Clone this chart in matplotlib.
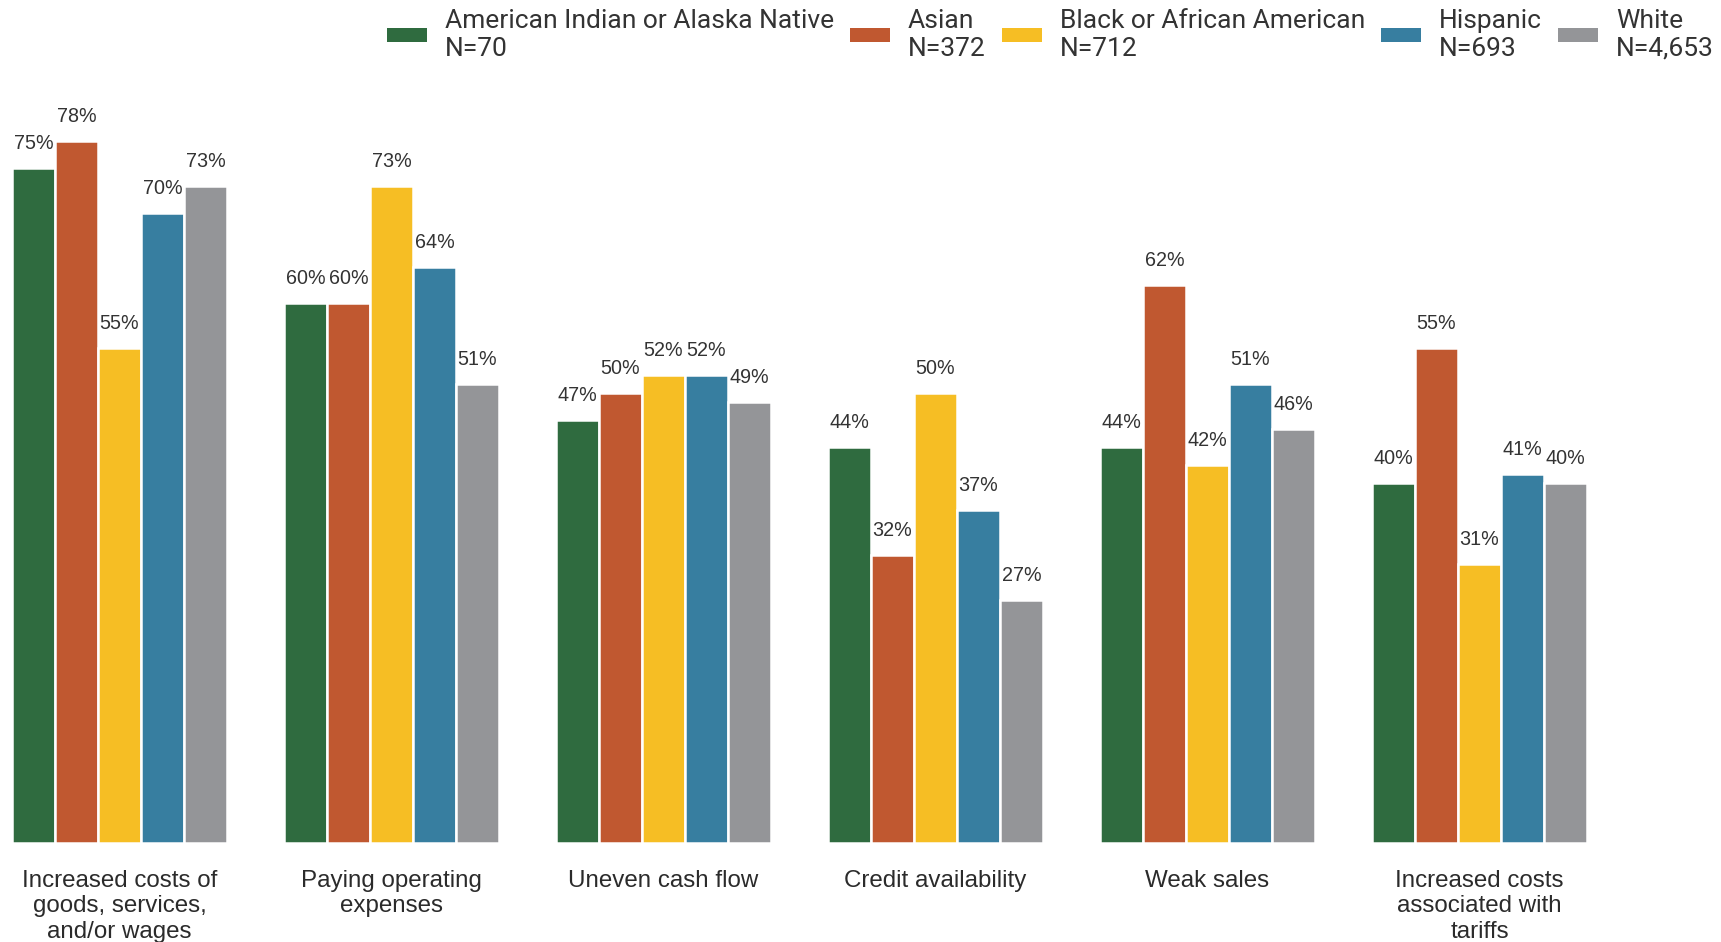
import numpy as np
import matplotlib.pyplot as plt

categories = ["Increased costs of\ngoods, services,\nand/or wages",
              "Paying operating\nexpenses",
              "Uneven cash flow",
              "Credit availability",
              "Weak sales",
              "Increased costs\nassociated with\ntariffs"]

groups = ["American Indian or Alaska Native\nN=70",
          "Asian\nN=372",
          "Black or African American\nN=712",
          "Hispanic\nN=693",
          "White\nN=4,653"]

aian = [75, 60, 47, 44, 44, 40]
asian = [78, 60, 50, 32, 62, 55]
black = [55, 73, 52, 50, 42, 31]
hispanic = [70, 64, 52, 37, 51, 41]
white = [73, 51, 49, 27, 46, 40]

colors = ["#2f6b3f", "#c05830", "#f6be24", "#377ea0", "#949598"]

fig = plt.figure(figsize=(17.21, 9.42), dpi=100)
ax = fig.add_axes([0, 99 / 942, 1, 843 / 942])

x = np.arange(len(categories))
width = 0.158
series = [aian, asian, black, hispanic, white]

for i, vals in enumerate(series):
    bars = ax.bar(x + (i - 2) * width, vals, width, color=colors[i],
                  edgecolor="white", linewidth=1.8, label=groups[i])
    for b, v in zip(bars, vals):
        ax.annotate("%d%%" % v, (b.get_x() + b.get_width() / 2, v),
                    xytext=(0, 13.5), textcoords="offset points",
                    ha="center", va="baseline", fontsize=14.2,
                    family="Liberation Sans", color="#333333")

ax.set_xlim(-119.5 / 272, (1721 - 119.5) / 272)
ax.set_ylim(0, 843 / 9)
ax.set_yticks([])
ax.set_xticks(x, categories, fontsize=17.4, family="Liberation Sans", color="#2b2b2b")
ax.tick_params(axis="x", length=0, pad=19.5)
for t in ax.get_xticklabels():
    t.set_linespacing(1.2)
for s in ax.spines.values():
    s.set_visible(False)

leg = fig.legend(loc="upper left", bbox_to_anchor=(387 / 1721, 1 - 9 / 942),
                 ncol=5, frameon=False, borderpad=0, borderaxespad=0,
                 prop={"family": "Roboto", "size": 19},
                 handlelength=1.52, handleheight=0.44, handletextpad=0.68,
                 columnspacing=0.6)
for t in leg.get_texts():
    t.set_color("#333333")
    t.set_linespacing(1.2)
for p in leg.get_patches():
    p.set_linewidth(0)

fig.savefig("out.png", dpi=100)
